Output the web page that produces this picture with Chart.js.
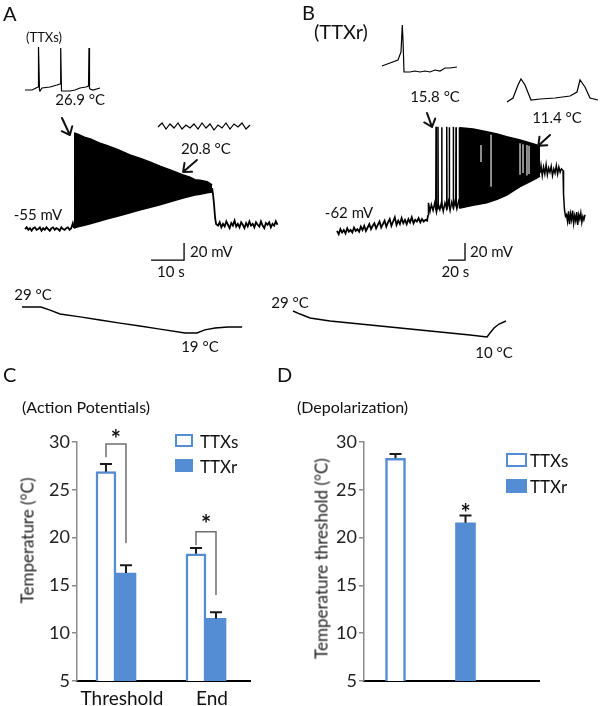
<!DOCTYPE html>
<html>
<head>
<meta charset="utf-8">
<title>TTXs / TTXr cold responses</title>
<script src="https://cdn.jsdelivr.net/npm/chart.js@4.4.1/dist/chart.umd.min.js"></script>
<style>
  body { margin: 0; background: #fff; }
  #fig { position: relative; width: 600px; height: 706px; overflow: hidden; font-family: Lato, 'Open Sans', sans-serif; color: #111; }
  #fig canvas { position: absolute; }
  .t { position: absolute; white-space: nowrap; line-height: 1; font-weight: 400; }
  .letter { font-size: 20px; }
  .ytitle { width: 260px; text-align: center; font-size: 17px; color: #222; transform: rotate(-90deg); }
  .box { position: absolute; box-sizing: border-box; }
  .open { background: #fff; border: 2.5px solid #548dd4; }
  .full { background: #548dd4; }
  .leg { font-size: 17px; }
</style>
</head>
<body>
<div id="fig">
  <canvas id="traceA" width="300" height="360" style="left:0;top:0"></canvas>
  <canvas id="traceB" width="340" height="360" style="left:260px;top:0"></canvas>
  <canvas id="barC" width="300" height="346" style="left:0;top:360px"></canvas>
  <canvas id="barD" width="300" height="346" style="left:300px;top:360px"></canvas>

  <div class="t letter" style="left:3px;top:3px">A</div>
  <div class="t letter" style="left:302px;top:2px">B</div>
  <div class="t letter" style="left:3px;top:364px">C</div>
  <div class="t letter" style="left:277px;top:364px">D</div>
  <div class="t" style="left:26px;top:31px;font-size:13px">(TTXs)</div>
  <div class="t" style="left:314px;top:21px;font-size:20px">(TTXr)</div>
  <div class="t" style="left:22px;top:399px;font-size:16px">(Action Potentials)</div>
  <div class="t" style="left:297px;top:399px;font-size:16px">(Depolarization)</div>
  <div class="t ytitle" style="left:-103px;top:532px">Temperature (°C)</div>
  <div class="t ytitle" style="left:191px;top:550px">Temperature threshold (°C)</div>

  <div class="box open" style="left:175px;top:434px;width:18px;height:13px"></div>
  <div class="t leg" style="left:200px;top:433px">TTXs</div>
  <div class="box full" style="left:175px;top:459px;width:18px;height:13px"></div>
  <div class="t leg" style="left:200px;top:458px">TTXr</div>
  <div class="box open" style="left:506px;top:453px;width:21px;height:14px"></div>
  <div class="t leg" style="left:530px;top:452px">TTXs</div>
  <div class="box full" style="left:506px;top:479px;width:21px;height:14px"></div>
  <div class="t leg" style="left:530px;top:478px">TTXr</div>
</div>
<script>
// ---- A: TTXs neuron, membrane potential (mV) against time (s) ----
const aRestT = [0, 0.5, 1, 1.5, 2, 2.5, 3, 3.5, 4, 4.5, 5, 5.5, 6, 6.5, 7, 7.5, 8, 8.5, 9, 9.5, 10, 10.5, 11, 11.5, 12, 12.5, 13, 13.5, 14, 14.5, 14.85];
const aRestV = [-55, -53, -56, -54, -57, -54, -53, -56, -55, -53, -57, -54, -56, -53, -55, -57, -54, -53, -56, -54, -55, -57, -53, -55, -56, -54, -53, -56, -54, -48, -54];
const aBurstT = [14.85, 16, 18, 20, 22.7, 25, 28, 31.8, 35, 38, 40.9, 44, 47.9, 50, 51.5, 53, 55.2, 56.7];
const aBurstTop = [57.9, 56.5, 53, 50.5, 46, 43, 38.5, 32, 28, 23.5, 19, 14.5, 8.5, 6, 3, 2.5, 0.5, -3];
const aBurstBottom = [-54, -52.5, -50.5, -48.5, -45.6, -43, -40, -36, -32.5, -29.5, -26.5, -23, -18.5, -16.5, -15, -14, -12.5, -11.5];
const aAfterT = [56.7, 57, 57.3, 57.6, 57.9, 58.5, 59, 59.5, 60, 60.5, 61, 61.5, 62, 62.5, 63, 63.5, 64, 64.5, 65, 65.5, 66, 66.5,
  67, 67.5, 68, 68.5, 69, 69.5, 70, 70.5, 71, 71.5, 72, 72.5, 73, 73.5, 74, 74.5, 75, 75.5, 76, 76.5];
const aAfterV = [-7, -15, -27, -42, -49, -51, -47, -53, -49, -52, -46, -50, -54, -48, -51, -45, -52, -49, -53, -47, -50, -54,
  -48, -52, -46, -51, -49, -53, -47, -50, -52, -46, -51, -54, -48, -50, -47, -53, -49, -51, -46, -50];
const aTempT = [-0.9, 4.8, 7.6, 10.6, 16.7, 22.7, 28.8, 34.8, 40.9, 48.5, 52.1, 54.5, 57.6, 61.5, 65.8];
const aTempC = [29, 29, 27.8, 26.3, 25.2, 24, 22.8, 21.7, 20.5, 19, 19, 20.2, 20.9, 21.3, 21.3];
const aScaleT = [38.2, 48.2, 48.2];
const aScaleV = [-91.5, -91.5, -71.5];
// insets (expanded time base)
const aInsetSpikeX = [25, 32, 36, 38, 38.5, 39.5, 40, 42, 50, 57, 60, 60.7, 61.5, 62, 70, 75, 80, 86, 88.5, 89, 89.5, 90, 93, 100];
const aInsetSpikeV = [-55, -55, -53, -52, -12, -55, -56, -53, -52, -50, -49, -13, -56, -56, -56, -55, -53, -52, -51, -13, -53, -54, -55, -53];
const aInsetWaveX = [158, 162, 166, 170, 174, 178, 182, 186, 190, 194, 198, 202, 206, 210, 214, 218, 222, 226, 230, 234, 238, 242, 246, 250];
const aInsetWaveV = [-92, -88, -94, -89, -93, -88, -94, -90, -93, -89, -94, -88, -93, -89, -95, -90, -93, -88, -94, -89, -92, -88, -94, -90];

// ---- B: TTXr neuron ----
const bRestT = [0, 2, 4, 6, 8, 10, 12, 14, 16, 18, 20, 22, 24, 26, 28, 30, 32, 34, 36, 38, 40, 42, 44, 46, 48, 50, 52,
  54, 56, 58, 60, 62, 64, 66, 68, 70, 72, 74, 76, 78, 80, 82, 84, 86, 88, 90, 92, 94, 96, 98, 100, 102, 104, 106, 107.1];
const bRestV = [-63, -67, -61, -65, -62, -66, -60, -64, -62, -65, -59, -63, -61, -64, -58, -62, -57, -63, -59, -55, -61, -57, -54, -60, -56, -52, -59,
  -55, -51, -58, -53, -49, -57, -52, -47, -56, -51, -55, -48, -54, -50, -55, -49, -53, -47, -54, -50, -52, -48, -53, -49, -52, -50, -51, -44.4];
const bBandT = [107.1, 107.6, 109.4, 111, 113, 115, 117, 119, 121, 123, 125, 127, 129, 131, 133, 135, 137, 139, 141, 143, 144.7];
const bBandV = [-44, -30, -40, -32, -39, -30, -41, -31, -38, -29, -40, -30, -37, -28, -39, -29, -36, -27, -37, -28, -33];
const bSpikeT = [116.5, 118.8, 123.2, 129.1, 132.1, 136.8, 140, 143.9];
const bSpikePeak = [59.5, 59.5, 59, 59.5, 59, 59.5, 59, 59];
const bSpikeFoot = [-38, -37, -36, -38, -35, -37, -34, -36];
const bBurstT = [144.7, 160, 176.1, 188.2, 199.6, 215.3, 227.1, 235, 238.8];
const bBurstTop = [58.4, 56.8, 53.6, 50.9, 47.8, 43.9, 40.4, 38, 35.6];
const bBurstBottom = [-36, -33, -30, -26, -21, -11, -5, -1, 1.5];
const bGapT = [169.4, 181.2, 215.3, 218.8, 223.5, 225.9];
const bGapTop = [38, 50, 40, 39, 38, 37];
const bGapBottom = [18, -11, 3, 5, 2, 4];
const bTailT = [238.8, 240, 241.5, 243, 244.5, 246, 247.5, 249, 250.5, 252, 253.5, 255, 256.5, 258, 259.5, 261, 262.5, 264, 265.9,
  266.5, 267.6, 268.8, 270, 271.2, 272.4, 273.6, 274.8, 276, 277.2, 278.4, 279.6, 280.8, 282, 283.2, 284.4, 285.6, 286.8, 288, 289.2, 290.4, 291.8];
const bTailV = [5, 14, 2, 12, 4, 15, 3, 11, 6, 13, 2, 10, 5, 14, 4, 12, 6, 10, 8,
  -20, -38, -46, -44, -52, -40, -55, -43, -50, -39, -54, -45, -51, -41, -56, -44, -49, -42, -53, -46, -50, -44];
const bTempT = [-51.8, -43.5, -31.8, -8.2, 27.1, 62.4, 97.6, 132.9, 156.5, 176.5, 180, 184.7, 190.6, 198.8];
const bTempC = [29, 26.8, 23.9, 21.7, 19.5, 17.3, 15.1, 12.9, 11.5, 10, 12.9, 16.6, 19.5, 21.7];
const bScaleT = [130.6, 150.6, 150.6];
const bScaleV = [-97.3, -97.3, -77.3];
const bInsetSpikeX = [122, 130, 138, 141, 142.3, 143, 144, 150, 155, 160, 165, 170, 175, 180, 185, 190, 197];
const bInsetSpikeV = [-58, -55, -52, -44, -17, -32, -64, -64, -63, -64, -63, -64, -62, -63, -60, -60, -59];
const bInsetSlowX = [247, 253, 258, 261, 265, 271, 280, 295, 310, 317, 320, 325, 330, 338];
const bInsetSlowV = [-94, -90, -77, -71, -77, -92, -91, -90, -88, -84, -72, -79, -90, -92];

// ---- C: action potential temperatures (°C), mean and SEM ----
const cGroups = ['Threshold', 'End'];
const cTTXs = [26.9, 18.3];
const cTTXsErr = [0.8, 0.6];
const cTTXr = [16.3, 11.55];
const cTTXrErr = [0.8, 0.65];
const cBracketTop = [29.8, 20.6];
const cBracketLeft = [28.4, 19.2];
const cBracketRight = [19.4, 14.0];
const cStarY = [30.85, 21.95];

// ---- D: depolarization threshold (°C) ----
const dGroups = ['TTXs', 'TTXr'];
const dThreshold = [28.3, 21.55];
const dThresholdErr = [0.45, 0.75];
const dStarY = 23.1;

const FONT = 'Lato, "Open Sans", sans-serif';
const BLUE = '#548dd4';
Chart.defaults.font.family = FONT;
Chart.defaults.color = '#111';
Chart.defaults.animation = false;

function pts(xs, ys) {
    return xs.map((x, i) => ({ x: x, y: ys[i] }));
}

// vertical strokes, one per spike, broken apart with nulls
function strokes(ts, tops, bottoms, half) {
    const out = [];
    ts.forEach((t, i) => {
        out.push({ x: t - half, y: bottoms[i] }, { x: t, y: tops[i] }, { x: t + half, y: bottoms[i] }, { x: t + half, y: null });
    });
    return out;
}

function line(data, extra) {
    return Object.assign({
        data: data, borderColor: '#000', borderWidth: 1.5, pointRadius: 0,
        fill: false, tension: 0, spanGaps: false, xAxisID: 'x', yAxisID: 'y'
    }, extra || {});
}

const notesPlugin = {
    id: 'notes',
    afterDatasetsDraw(chart, args, opts) {
        const ctx = chart.ctx;
        const xs = chart.scales.x;
        ctx.save();
        ctx.fillStyle = '#111';
        ctx.strokeStyle = '#111';
        ctx.font = '15px ' + FONT;
        ctx.textBaseline = 'middle';
        opts.labels.forEach(n => {
            const ys = chart.scales[n.axis || 'y'];
            ctx.textAlign = n.align || 'center';
            ctx.fillText(n.text, xs.getPixelForValue(n.t), ys.getPixelForValue(n.v));
        });
        ctx.lineWidth = 2;
        ctx.lineCap = 'round';
        opts.arrows.forEach(a => {
            const ys = chart.scales.y;
            const x0 = xs.getPixelForValue(a[0]), y0 = ys.getPixelForValue(a[1]);
            const x1 = xs.getPixelForValue(a[2]), y1 = ys.getPixelForValue(a[3]);
            const ang = Math.atan2(y1 - y0, x1 - x0);
            ctx.beginPath();
            ctx.moveTo(x0, y0);
            ctx.lineTo(x1, y1);
            [-0.7, 0.7].forEach(d => {
                ctx.moveTo(x1, y1);
                ctx.lineTo(x1 - 9 * Math.cos(ang + d), y1 - 9 * Math.sin(ang + d));
            });
            ctx.stroke();
        });
        ctx.restore();
    }
};

function traceChart(id, ranges, datasets, labels, arrows) {
    const hidden = (axis, r) => ({ type: 'linear', axis: axis, display: false, min: r[0], max: r[1] });
    return new Chart(document.getElementById(id), {
        type: 'line',
        data: { datasets: datasets },
        options: {
            responsive: false,
            events: [],
            layout: { padding: 0 },
            scales: {
                x: hidden('x', ranges.x),
                y: hidden('y', ranges.y),
                yT: hidden('y', ranges.yT),
                xi: hidden('x', ranges.xi),
                yi: hidden('y', ranges.yi)
            },
            plugins: { legend: { display: false }, tooltip: { enabled: false }, notes: { labels: labels, arrows: arrows } }
        },
        plugins: [notesPlugin]
    });
}

traceChart('traceA',
    { x: [-7.58, 83.33], y: [-209.1, 214.4], yT: [8.6, 147.1], xi: [0, 300], yi: [-325, 35] },
    [
        line(pts(aRestT, aRestV), { borderWidth: 1.8 }),
        line(pts(aBurstT, aBurstTop), { fill: '+1', backgroundColor: '#000' }),
        line(pts(aBurstT, aBurstBottom)),
        line(pts(aAfterT, aAfterV), { borderWidth: 1.8 }),
        line(pts(aScaleT, aScaleV), { borderWidth: 1.3 }),
        line(pts(aTempT, aTempC), { yAxisID: 'yT', borderWidth: 1.4 }),
        line(pts(aInsetSpikeX, aInsetSpikeV), { xAxisID: 'xi', yAxisID: 'yi', borderWidth: 1.2 }),
        line(pts(aInsetWaveX, aInsetWaveV), { xAxisID: 'xi', yAxisID: 'yi', borderWidth: 1.2 })
    ],
    [
        { text: '26.9 °C', t: 16.7, v: 96.8 },
        { text: '20.8 °C', t: 54.8, v: 39.1 },
        { text: '-55 mV', t: 3.9, v: -38.5 },
        { text: '20 mV', t: 50, v: -82.1, align: 'left' },
        { text: '10 s', t: 44.2, v: -105.6 },
        { text: '29 °C', t: 2.4, v: 33.6, axis: 'yT' },
        { text: '19 °C', t: 53, v: 13.6, axis: 'yT' }
    ],
    [[11.2, 75.6, 13.6, 55.6], [52.1, 26.2, 47.9, 12.1]]
);

traceChart('traceB',
    { x: [-90.6, 309.4], y: [-214.9, 208.6], yT: [-6.8, 256.3], xi: [0, 340], yi: [-352, 8] },
    [
        line(strokes(bGapT, bGapTop, bGapBottom, 0), { borderColor: '#fff', borderWidth: 1.1, order: -1 }),
        line(pts(bRestT, bRestV), { borderWidth: 1.8 }),
        line(pts(bBandT, bBandV)),
        line(strokes(bSpikeT, bSpikePeak, bSpikeFoot, 0.3)),
        line(pts(bBurstT, bBurstTop), { fill: '+1', backgroundColor: '#000' }),
        line(pts(bBurstT, bBurstBottom)),
        line(pts(bTailT, bTailV)),
        line(pts(bScaleT, bScaleV), { borderWidth: 1.3 }),
        line(pts(bTempT, bTempC), { yAxisID: 'yT', borderWidth: 1.4 }),
        line(pts(bInsetSpikeX, bInsetSpikeV), { xAxisID: 'xi', yAxisID: 'yi', borderWidth: 1.2 }),
        line(pts(bInsetSlowX, bInsetSlowV), { xAxisID: 'xi', yAxisID: 'yi', borderWidth: 1.2 })
    ],
    [
        { text: '15.8 °C', t: 115.3, v: 94.5 },
        { text: '11.4 °C', t: 258.8, v: 69.8 },
        { text: '-62 mV', t: 14.1, v: -42 },
        { text: '20 mV', t: 156.5, v: -87.9, align: 'left' },
        { text: '20 s', t: 139.3, v: -111.4 },
        { text: '29 °C', t: -55.3, v: 34.8, axis: 'yT' },
        { text: '10 °C', t: 184.7, v: -1.7, axis: 'yT' }
    ],
    [[105.9, 75.6, 111.8, 59.2], [250.6, 49.8, 236.8, 37.2]]
);

// error bars (upper arm only), brackets and asterisks for the bar panels
const barMarks = {
    id: 'barMarks',
    afterDatasetsDraw(chart, args, opts) {
        const ctx = chart.ctx;
        const ys = chart.scales.y;
        ctx.save();
        ctx.strokeStyle = '#1a1a1a';
        ctx.lineWidth = 2;
        chart.data.datasets.forEach((ds, di) => {
            chart.getDatasetMeta(di).data.forEach((bar, i) => {
                const top = ys.getPixelForValue(ds.data[i].y + ds.errors[i]);
                ctx.beginPath();
                ctx.moveTo(bar.x, bar.y);
                ctx.lineTo(bar.x, top);
                ctx.moveTo(bar.x - 6, top);
                ctx.lineTo(bar.x + 6, top);
                ctx.stroke();
            });
        });
        ctx.strokeStyle = '#6e6e6e';
        ctx.lineWidth = 1.5;
        (opts.brackets || []).forEach(b => {
            const l = chart.getDatasetMeta(b.left[0]).data[b.left[1]];
            const r = chart.getDatasetMeta(b.right[0]).data[b.right[1]];
            ctx.beginPath();
            ctx.moveTo(l.x, ys.getPixelForValue(b.leftEnd));
            ctx.lineTo(l.x, ys.getPixelForValue(b.top));
            ctx.lineTo(r.x, ys.getPixelForValue(b.top));
            ctx.lineTo(r.x, ys.getPixelForValue(b.rightEnd));
            ctx.stroke();
        });
        ctx.fillStyle = '#111';
        ctx.font = 'bold 24px ' + FONT;
        ctx.textAlign = 'center';
        ctx.textBaseline = 'alphabetic';
        (opts.stars || []).forEach(s => {
            const a = chart.getDatasetMeta(s.from[0]).data[s.from[1]];
            const b = chart.getDatasetMeta(s.to[0]).data[s.to[1]];
            const m = ctx.measureText('*');
            const cy = ys.getPixelForValue(s.y);
            ctx.fillText('*', (a.x + b.x) / 2, cy + (m.actualBoundingBoxAscent - m.actualBoundingBoxDescent) / 2);
        });
        ctx.restore();
    }
};

function yAxis(width) {
    return {
        min: 5, max: 30,
        ticks: { stepSize: 5, padding: 2, color: '#222', font: { size: 18 } },
        grid: { drawOnChartArea: false, color: '#8c8c8c', lineWidth: 1.5, tickLength: 5 },
        border: { color: '#8c8c8c', width: 1.5 },
        afterFit: s => { s.width = width; }
    };
}

new Chart(document.getElementById('barC'), {
    type: 'bar',
    data: {
        datasets: [
            { label: 'TTXs', data: cTTXs.map((v, i) => ({ x: i + 1, y: v })), errors: cTTXsErr,
              backgroundColor: '#fff', borderColor: BLUE, borderWidth: 2.5, borderSkipped: false, barThickness: 20 },
            { label: 'TTXr', data: cTTXr.map((v, i) => ({ x: i + 1, y: v })), errors: cTTXrErr,
              backgroundColor: BLUE, borderWidth: 0, barThickness: 20 }
        ]
    },
    options: {
        responsive: false,
        events: [],
        layout: { padding: { left: 0, top: 82, right: 50, bottom: 0 } },
        scales: {
            x: {
                type: 'linear', min: 0.567, max: 2.489, offset: false,
                grid: { display: false, drawTicks: false, offset: false },
                border: { display: true, color: '#000', width: 2 },
                afterBuildTicks: s => { s.ticks = cGroups.map((g, i) => ({ value: i + 1 })); },
                ticks: { callback: v => cGroups[v - 1], padding: 6, labelOffset: 6, color: '#111', font: { size: 19 }, autoSkip: false, maxRotation: 0 },
                afterFit: s => { s.height = 25; }
            },
            y: yAxis(77)
        },
        plugins: {
            legend: { display: false }, tooltip: { enabled: false },
            barMarks: {
                brackets: cGroups.map((g, i) => ({ left: [0, i], right: [1, i], top: cBracketTop[i], leftEnd: cBracketLeft[i], rightEnd: cBracketRight[i] })),
                stars: cGroups.map((g, i) => ({ from: [0, i], to: [1, i], y: cStarY[i] }))
            }
        }
    },
    plugins: [barMarks]
});

new Chart(document.getElementById('barD'), {
    type: 'bar',
    data: {
        datasets: [
            { label: 'Temperature threshold', data: dThreshold.map((v, i) => ({ x: 2 * i + 1, y: v })), errors: dThresholdErr,
              backgroundColor: ctx => ctx.dataIndex === 0 ? '#fff' : BLUE,
              borderColor: BLUE,
              borderWidth: ctx => ctx.dataIndex === 0 ? 2.5 : 0,
              borderSkipped: false, barThickness: 20 }
        ]
    },
    options: {
        responsive: false,
        events: [],
        layout: { padding: { left: 0, top: 82, right: 61, bottom: 0 } },
        scales: {
            x: {
                type: 'linear', min: 0.1, max: 5.1, offset: false,
                grid: { display: false, drawTicks: false, offset: false },
                border: { display: true, color: '#000', width: 2 },
                ticks: { display: false },
                afterFit: s => { s.height = 25; }
            },
            y: yAxis(64)
        },
        plugins: {
            legend: { display: false }, tooltip: { enabled: false },
            barMarks: { stars: [{ from: [0, 1], to: [0, 1], y: dStarY }] }
        }
    },
    plugins: [barMarks]
});
</script>
</body>
</html>
